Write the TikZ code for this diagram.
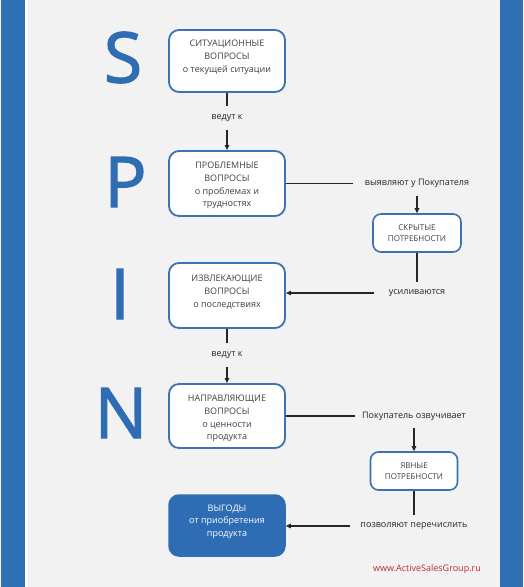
\documentclass[tikz,border=0pt]{standalone}
\usepackage{fontspec}
\setmainfont{Open Sans}
\newfontfamily\bigfont{Open Sans}[FakeBold=1.8]
\usetikzlibrary{arrows.meta}
\definecolor{stripblue}{HTML}{2F6FB3}
\definecolor{boxblue}{HTML}{3B72B2}
\definecolor{fillblue}{HTML}{2E6DB4}
\definecolor{bggray}{HTML}{F1F2F1}
\definecolor{txtgray}{HTML}{404040}
\definecolor{webred}{HTML}{C0282D}
\tikzset{
  qbox/.style={draw=boxblue, line width=1.8pt, fill=white, rounded corners=10pt,
    minimum width=116pt, inner sep=0pt},
  qtext/.style={align=center, text=txtgray, inner sep=0pt,
    font=\fontsize{9}{12.8}\selectfont},
  needbox/.style={draw=boxblue, line width=1.6pt, fill=white, rounded corners=8pt,
    minimum width=88pt, minimum height=38pt, align=center, text=txtgray, inner sep=0pt,
    font=\fontsize{8}{11}\selectfont},
  gainbox/.style={draw=fillblue, line width=1.5pt, fill=fillblue, rounded corners=10pt,
    minimum width=116pt, minimum height=61pt, inner sep=0pt},
  gtext/.style={align=center, text=white, inner sep=0pt,
    font=\fontsize{9}{12.5}\selectfont},
  lbl/.style={inner xsep=8pt, inner ysep=0pt, minimum height=23pt, text=black!85,
    font=\fontsize{9}{11}\selectfont},
  bigletter/.style={anchor=base, inner sep=0pt, text=fillblue,
    font=\fontsize{70}{70}\bigfont},
  conn/.style={draw=black!85, line width=1.1pt},
  arr/.style={conn, -{Triangle[length=5pt,width=4.5pt]}},
}
\begin{document}
\begin{tikzpicture}[x=1pt,y=-1pt]
\useasboundingbox (0,0) rectangle (523,587);
\fill[bggray] (0,0) rectangle (523,587);
\fill[stripblue] (1,0) rectangle (25,587);
\fill[white] (25,0) rectangle (27,587);
\fill[stripblue] (500,0) rectangle (523,587);

% big letters
\node[bigletter] (ls) at (123,82.5) {S};
\node[bigletter] (lp) at (125.5,207) {P};
\node[bigletter] (li) at (120,319) {I};
\node[bigletter] (ln) at (121,438) {N};

% question boxes
\node[qbox, minimum height=62pt] (s) at (227,61) {};
\node[qtext] (st) at ([yshift=3.5pt]s.center) {СИТУАЦИОННЫЕ\\ВОПРОСЫ\\о текущей ситуации};
\node[qbox, minimum height=65pt] (p) at (227,183.5) {};
\node[qtext] (pt) at ([yshift=-2pt]p.center) {ПРОБЛЕМНЫЕ\\ВОПРОСЫ\\о проблемах и\\трудностях};
\node[qbox, minimum height=65pt] (i) at (227,295.5) {};
\node[qtext] (it) at ([yshift=3.5pt]i.center) {ИЗВЛЕКАЮЩИЕ\\ВОПРОСЫ\\о последствиях};
\node[qbox, minimum height=64pt] (n) at (227,416) {};
\node[qtext] (nt) at ([yshift=-2.5pt]n.center) {НАПРАВЛЯЮЩИЕ\\ВОПРОСЫ\\о ценности\\продукта};
\node[gainbox] (g) at (227,525.5) {};
\node[gtext] (gt) at ([yshift=4pt]g.center) {ВЫГОДЫ\\от приобретения\\продукта};

% need boxes
\node[needbox] (h) at (417,233) {СКРЫТЫЕ\\ПОТРЕБНОСТИ};
\node[needbox, minimum width=87pt] (e) at (414,471) {ЯВНЫЕ\\ПОТРЕБНОСТИ};

% labels
\node[lbl] (l1) at (227,118) {ведут к};
\node[lbl, inner xsep=12pt, minimum height=24pt] (l2) at (417,183.5) {выявляют у Покупателя};
\node[lbl, inner xsep=15pt, minimum height=21pt] (l3) at (417,293) {усиливаются};
\node[lbl] (l4) at (227,355) {ведут к};
\node[lbl, inner xsep=7pt] (l5) at (414,416) {Покупатель озвучивает};
\node[lbl, inner xsep=10pt, minimum height=21pt] (l6) at (414,526) {позволяют перечислить};

% connectors
\draw[conn] (s.south) -- (l1.north);
\draw[arr] (l1.south) -- (p.north);
\draw[conn] (p.east) -- (p.east -| l2.west);
\draw[arr] (l2.south) -- (h.north);
\draw[conn] (h.south) -- (l3.north);
\draw[arr] (l3.west) -- (l3.west -| i.east);
\draw[conn] (i.south) -- (l4.north);
\draw[arr] (l4.south) -- (n.north);
\draw[conn] (n.east) -- (n.east -| l5.west);
\draw[arr] (l5.south) -- (e.north);
\draw[conn] (e.south) -- (l6.north);
\draw[arr] (l6.west) -- (l6.west -| g.east);

% web address
\node[text=webred, inner sep=0pt, font=\fontsize{9}{11}\selectfont] (web) at (427,569) {www.ActiveSalesGroup.ru};
\end{tikzpicture}
\end{document}
